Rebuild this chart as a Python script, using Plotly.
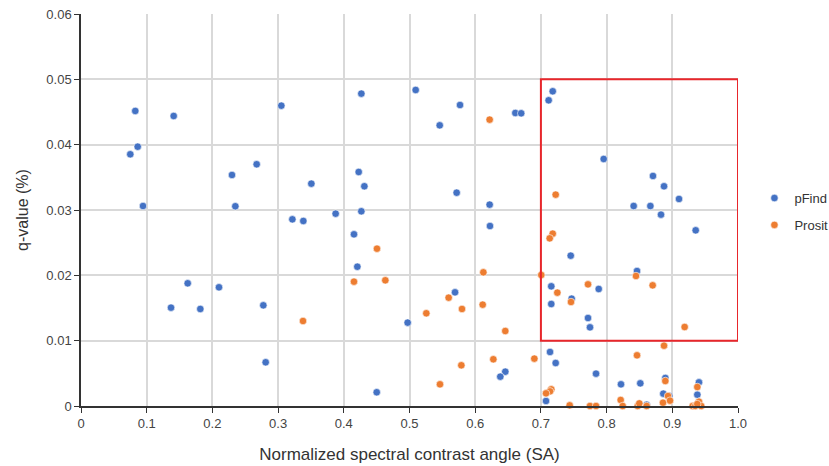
import plotly.graph_objects as go

# pFind identifications: spectral contrast angle vs q-value
pfind_sa = [0.0826, 0.1411, 0.3049, 0.0863, 0.0750, 0.2674, 0.2298, 0.0944, 0.2349,
            0.4267, 0.5094, 0.5769, 0.6611, 0.6700, 0.5460, 0.4227, 0.3506, 0.4313,
            0.5718, 0.6220, 0.3217, 0.3384, 0.3876, 0.4267, 0.4155, 0.6225,
            0.7180, 0.7118, 0.7956, 0.8706, 0.8874, 0.9102, 0.8412, 0.8666, 0.8828, 0.9356,
            0.1624, 0.2100, 0.1370, 0.1816, 0.2775, 0.2811,
            0.4206, 0.5693, 0.4972, 0.6458, 0.6382, 0.4501,
            0.7454, 0.8463, 0.7158, 0.7880, 0.7468, 0.7158, 0.7717, 0.7747, 0.7139, 0.7225,
            0.7839, 0.8219, 0.8513, 0.8894, 0.9406, 0.8863, 0.8955, 0.9381, 0.7078, 0.8610]
pfind_q = [0.04516, 0.04439, 0.04597, 0.03969, 0.03853, 0.03700, 0.03536, 0.03061, 0.03057,
           0.04781, 0.04837, 0.04607, 0.04485, 0.04480, 0.04296, 0.03582, 0.03403, 0.03363,
           0.03265, 0.03082, 0.02857, 0.02832, 0.02944, 0.02980, 0.02628, 0.02755,
           0.04817, 0.04679, 0.03781, 0.03521, 0.03363, 0.03169, 0.03061, 0.03061, 0.02929, 0.02689,
           0.01878, 0.01817, 0.01505, 0.01485, 0.01541, 0.00669,
           0.02132, 0.01740, 0.01276, 0.00525, 0.00449, 0.00210,
           0.02301, 0.02066, 0.01832, 0.01791, 0.01643, 0.01561, 0.01347, 0.01204, 0.00827, 0.00658,
           0.00495, 0.00332, 0.00347, 0.00429, 0.00362, 0.00189, 0.00153, 0.00173, 0.00077, 0.00020]

# Prosit identifications
prosit_sa = [0.6220, 0.7225, 0.7180, 0.7134, 0.4505, 0.4155, 0.4632, 0.6124, 0.5596, 0.5799,
             0.5256, 0.6114, 0.3379, 0.6458, 0.6276, 0.5789, 0.5464,
             0.8447, 0.7006, 0.7717, 0.8701, 0.7250, 0.7458, 0.9188, 0.8874, 0.8463, 0.6900,
             0.8894, 0.9381, 0.8935, 0.8965, 0.7158, 0.7139, 0.7078, 0.7438, 0.7747, 0.7839,
             0.8214, 0.8245, 0.8473, 0.8498, 0.8610, 0.8858, 0.9310, 0.9350, 0.9406, 0.9440, 0.9380]
prosit_q = [0.04383, 0.03235, 0.02638, 0.02566, 0.02408, 0.01903, 0.01924, 0.02046, 0.01658, 0.01485,
            0.01419, 0.01551, 0.01301, 0.01148, 0.00715, 0.00623, 0.00332,
            0.01990, 0.02005, 0.01862, 0.01847, 0.01735, 0.01592, 0.01209, 0.00923, 0.00776, 0.00725,
            0.00383, 0.00291, 0.00153, 0.00082, 0.00255, 0.00224, 0.00194, 0.00010, 0.00000, 0.00000,
            0.00092, 0.00000, 0.00000, 0.00040, 0.00000, 0.00050, 0.00000, 0.00000, 0.00066, 0.00000, 0.00030]

x_ticks = [0, 0.1, 0.2, 0.3, 0.4, 0.5, 0.6, 0.7, 0.8, 0.9, 1.0]
x_tick_text = ["0", "0.1", "0.2", "0.3", "0.4", "0.5", "0.6", "0.7", "0.8", "0.9", "1.0"]
y_ticks = [0, 0.01, 0.02, 0.03, 0.04, 0.05, 0.06]
y_tick_text = ["0", "0.01", "0.02", "0.03", "0.04", "0.05", "0.06"]

# highlighted region: high SA, low q-value
box_x = [0.7, 1.0]
box_y = [0.01, 0.05]

BLUE = "#4472c4"
ORANGE = "#ed7d31"
FONT = "Arial, Liberation Sans, sans-serif"

fig = go.Figure()
fig.add_trace(go.Scatter(
    x=pfind_sa, y=pfind_q, mode="markers", name="pFind",
    legendgroup="a",
    marker=dict(color=BLUE, size=7.5, line=dict(width=0.6, color="white")),
    cliponaxis=False,
))
fig.add_trace(go.Scatter(
    x=prosit_sa, y=prosit_q, mode="markers", name="Prosit",
    legendgroup="b",
    marker=dict(color=ORANGE, size=7.5, line=dict(width=0.6, color="white")),
    cliponaxis=False,
))

fig.add_shape(type="rect", xref="x", yref="y",
              x0=box_x[0], x1=box_x[1], y0=box_y[0], y1=box_y[1],
              line=dict(color="#e8262b", width=2), layer="above")

axis_common = dict(
    showgrid=True, gridcolor="#d9d9d9", gridwidth=1.6,
    showline=True, linecolor="#333333", linewidth=1.5,
    ticks="outside", ticklen=5, tickcolor="#333333", tickwidth=1.2,
    tickfont=dict(family=FONT, size=13, color="#444444"),
    zeroline=False, automargin=False,
)

fig.update_layout(
    width=829, height=466,
    margin=dict(l=81, r=91, t=14, b=60, autoexpand=False),
    paper_bgcolor="white", plot_bgcolor="white",
    font=dict(family=FONT, color="#333333"),
    xaxis=dict(range=[0, 1], tickvals=x_ticks, ticktext=x_tick_text,
               title=dict(text="Normalized spectral contrast angle (SA)",
                          font=dict(family=FONT, size=17, color="#333333"), standoff=18),
               **axis_common),
    yaxis=dict(range=[0, 0.06], tickvals=y_ticks, ticktext=y_tick_text,
               title=dict(text="q-value (%)",
                          font=dict(family=FONT, size=16, color="#333333"), standoff=14),
               **axis_common),
    legend=dict(x=1.025, xanchor="left", y=0.496, yanchor="middle",
                font=dict(family=FONT, size=13, color="#333333"),
                traceorder="grouped", tracegroupgap=7, itemwidth=30),
    showlegend=True,
)

fig.write_html("out.html")
